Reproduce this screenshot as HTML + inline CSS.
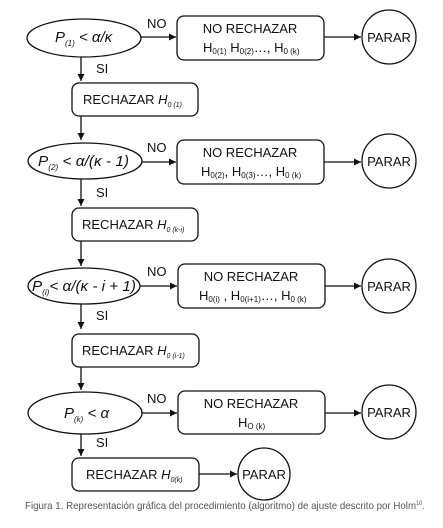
<!DOCTYPE html>
<html><head><meta charset="utf-8"><style>
html,body{margin:0;padding:0;background:#fff;}
svg{display:block;font-family:"Liberation Sans",sans-serif;}
</style></head><body>
<svg width="443" height="528" viewBox="0 0 443 528" xmlns="http://www.w3.org/2000/svg">
<defs><marker id="a" markerWidth="8" markerHeight="8" refX="7" refY="4" orient="auto" markerUnits="userSpaceOnUse"><path d="M0,0.5 L7,4 L0,7.5 Z" fill="#111"/></marker></defs>
<g fill="none" stroke="#111" stroke-width="1.3">
<ellipse cx="84" cy="38" rx="57" ry="19"/>
<rect x="177" y="16" width="147" height="44" rx="7"/>
<circle cx="389" cy="37" r="27"/>
<line x1="141" y1="37" x2="176" y2="37" marker-end="url(#a)"/>
<line x1="324" y1="37" x2="361" y2="37" marker-end="url(#a)"/>
<line x1="81" y1="57" x2="81" y2="81" marker-end="url(#a)"/>
<rect x="72" y="83" width="126" height="33" rx="7"/>
<line x1="81" y1="116" x2="81" y2="140" marker-end="url(#a)"/>
<ellipse cx="85" cy="161" rx="57" ry="18"/>
<rect x="177" y="140" width="147" height="44" rx="7"/>
<circle cx="389" cy="161" r="27"/>
<line x1="142" y1="162" x2="176" y2="162" marker-end="url(#a)"/>
<line x1="324" y1="162" x2="361" y2="162" marker-end="url(#a)"/>
<line x1="81" y1="179" x2="81" y2="206" marker-end="url(#a)"/>
<rect x="72" y="208" width="126" height="33" rx="7"/>
<line x1="81" y1="241" x2="81" y2="266" marker-end="url(#a)"/>
<ellipse cx="84" cy="286" rx="56" ry="18"/>
<rect x="178" y="264" width="147" height="44" rx="7"/>
<circle cx="389" cy="286" r="27"/>
<line x1="140" y1="286" x2="177" y2="286" marker-end="url(#a)"/>
<line x1="325" y1="286" x2="361" y2="286" marker-end="url(#a)"/>
<line x1="81" y1="304" x2="81" y2="329" marker-end="url(#a)"/>
<rect x="72" y="334" width="127" height="33" rx="7"/>
<line x1="81" y1="367" x2="81" y2="390" marker-end="url(#a)"/>
<ellipse cx="85" cy="413" rx="57" ry="21"/>
<rect x="178" y="391" width="147" height="43" rx="7"/>
<circle cx="389" cy="412" r="27"/>
<line x1="142" y1="413" x2="177" y2="413" marker-end="url(#a)"/>
<line x1="325" y1="413" x2="361" y2="413" marker-end="url(#a)"/>
<line x1="81" y1="434" x2="81" y2="456" marker-end="url(#a)"/>
<rect x="72" y="458" width="127" height="33" rx="7"/>
<line x1="199" y1="474" x2="237" y2="474" marker-end="url(#a)"/>
<circle cx="264" cy="474" r="26"/>
</g>
<g fill="#111" font-size="13">
<text x="147" y="28">NO</text><text x="147" y="152">NO</text><text x="147" y="276">NO</text><text x="147" y="403">NO</text>
<text x="96" y="73">SI</text><text x="96" y="197">SI</text><text x="96" y="320">SI</text><text x="96" y="447">SI</text>
<text x="55" y="42" font-size="15" font-style="italic">P<tspan font-size="8" dy="4">(1)</tspan><tspan dy="-4"> &lt; α/κ</tspan></text>
<text x="38" y="166" font-size="15" font-style="italic" textLength="91" lengthAdjust="spacingAndGlyphs">P<tspan font-size="8" dy="4">(2)</tspan><tspan dy="-4"> &lt; α/(κ - 1)</tspan></text>
<text x="32" y="291" font-size="15" font-style="italic" textLength="104" lengthAdjust="spacingAndGlyphs">P<tspan font-size="8" dy="4">(i)</tspan><tspan dy="-4">&lt; α/(κ - i + 1)</tspan></text>
<text x="64" y="418" font-size="15" font-style="italic">P<tspan font-size="8" dy="4">(k)</tspan><tspan dy="-4"> &lt; α</tspan></text>
<text x="250" y="33" text-anchor="middle">NO RECHAZAR</text>
<text x="203" y="52">H<tspan font-size="8" dy="2">0(1)</tspan><tspan dy="-2"> H</tspan><tspan font-size="8" dy="2">0(2)</tspan><tspan dy="-2">…, H</tspan><tspan font-size="8" dy="2">0 (k)</tspan></text>
<text x="250" y="157" text-anchor="middle">NO RECHAZAR</text>
<text x="201" y="176">H<tspan font-size="8" dy="2">0(2)</tspan><tspan dy="-2">, H</tspan><tspan font-size="8" dy="2">0(3)</tspan><tspan dy="-2">…, H</tspan><tspan font-size="8" dy="2">0 (k)</tspan></text>
<text x="251" y="281" text-anchor="middle">NO RECHAZAR</text>
<text x="199" y="300">H<tspan font-size="8" dy="2">0(i)</tspan><tspan dy="-2"> , H</tspan><tspan font-size="8" dy="2">0(i+1)</tspan><tspan dy="-2">…, H</tspan><tspan font-size="8" dy="2">0 (k)</tspan></text>
<text x="251" y="408" text-anchor="middle">NO RECHAZAR</text>
<text x="238" y="427">H<tspan font-size="8" dy="2">O (k)</tspan></text>
<text x="389" y="42" text-anchor="middle">PARAR</text>
<text x="389" y="166" text-anchor="middle">PARAR</text>
<text x="389" y="291" text-anchor="middle">PARAR</text>
<text x="389" y="417" text-anchor="middle">PARAR</text>
<text x="264" y="479" text-anchor="middle">PARAR</text>
<text x="83" y="104">RECHAZAR <tspan font-style="italic">H</tspan><tspan font-size="7" font-style="italic" dy="3">0 (1)</tspan></text>
<text x="82" y="229">RECHAZAR <tspan font-style="italic">H</tspan><tspan font-size="7" font-style="italic" dy="3">0 (k-i)</tspan></text>
<text x="82" y="355">RECHAZAR <tspan font-style="italic">H</tspan><tspan font-size="7" font-style="italic" dy="3">0 (i-1)</tspan></text>
<text x="86" y="479">RECHAZAR <tspan font-style="italic">H</tspan><tspan font-size="7" font-style="italic" dy="3">0(k)</tspan></text>
</g>
<text x="25" y="509" font-size="10.5" fill="#555" textLength="400" lengthAdjust="spacingAndGlyphs">Figura 1. Representación gráfica del procedimiento (algoritmo) de ajuste descrito por Holm<tspan font-size="6" dy="-4">10</tspan><tspan dy="4">.</tspan></text>
</svg>
</body></html>
